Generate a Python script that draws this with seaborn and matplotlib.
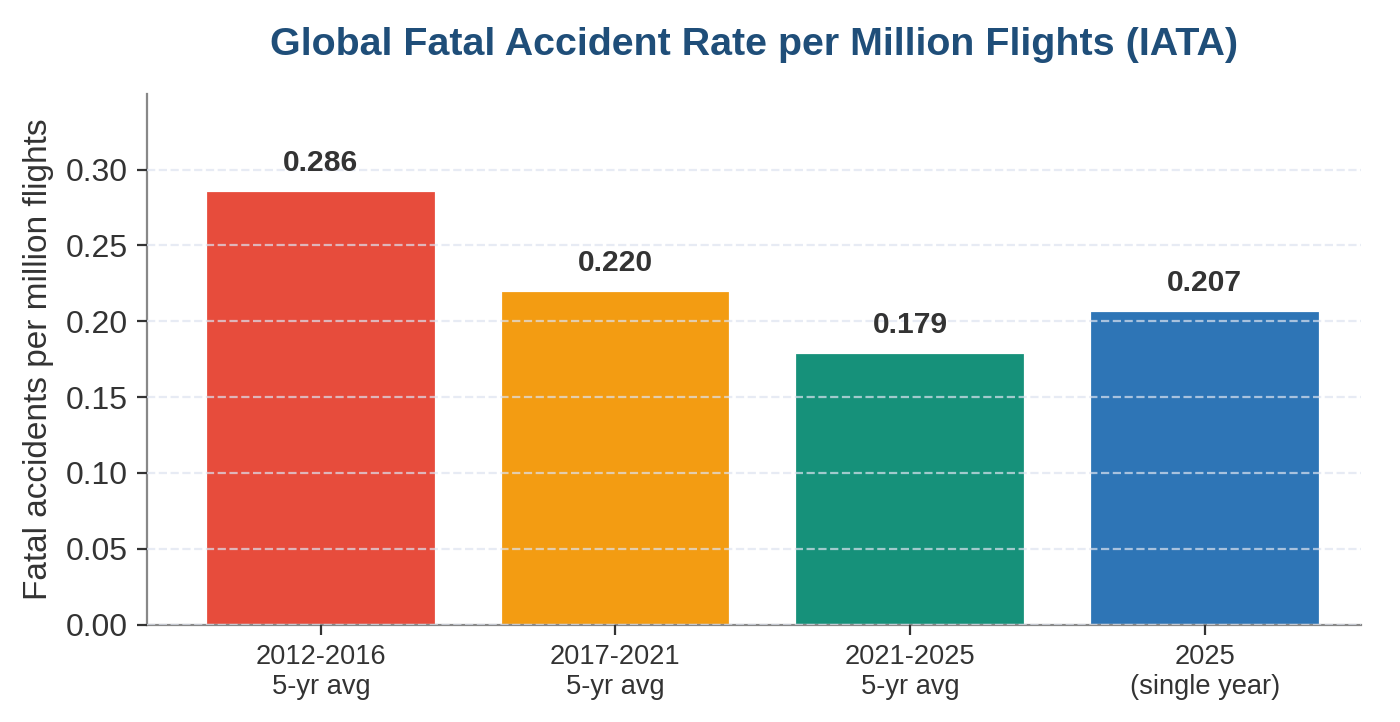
import matplotlib
matplotlib.use('Agg')
import matplotlib.pyplot as plt
import seaborn as sns
import pandas as pd

periods = ['2012-2016\n5-yr avg', '2017-2021\n5-yr avg', '2021-2025\n5-yr avg', '2025\n(single year)']
rates = [0.286, 0.220, 0.179, 0.207]
bar_colors = ['#e74c3c', '#f39c12', '#16917a', '#2e75b6']

df = pd.DataFrame({'period': periods, 'rate': rates})

sns.set_style('ticks')
plt.rcParams['font.family'] = ['Liberation Sans', 'DejaVu Sans']

fig, ax = plt.subplots(figsize=(7, 3.61), dpi=200)

sns.barplot(data=df, x='period', y='rate', hue='period', palette=bar_colors,
            legend=False, width=0.78, edgecolor='white', linewidth=0.8,
            saturation=1, ax=ax)

# value labels above each bar
for i, v in enumerate(rates):
    ax.text(i, v + 0.009, f'{v:.3f}', ha='center', va='bottom',
            fontsize=10.8, fontweight='bold', color='#333333')

ax.set_ylim(0, 0.35)
ax.set_xlim(-0.59, 3.53)
ax.set_yticks([0, 0.05, 0.10, 0.15, 0.20, 0.25, 0.30])
ax.set_yticklabels([f'{t:.2f}' for t in ax.get_yticks()])
ax.grid(axis='y', linestyle='--', color='#dde3f0', alpha=0.7, linewidth=0.8)
ax.set_axisbelow(False)

ax.set_xlabel('')
ax.set_ylabel('Fatal accidents per million flights', fontsize=12, color='#333333')
ax.set_title('Global Fatal Accident Rate per Million Flights (IATA)',
             fontsize=14.2, fontweight='bold', color='#1f4e79', pad=14)
ax.tick_params(axis='y', labelsize=11.5, colors='#333333')
ax.tick_params(axis='x', labelsize=9.8, colors='#333333')
for s in ['left', 'bottom']:
    ax.spines[s].set_color('#888888')
sns.despine(ax=ax)

plt.subplots_adjust(left=0.105, right=0.972, top=0.87, bottom=0.135)
fig.savefig('out.png', dpi=200)
